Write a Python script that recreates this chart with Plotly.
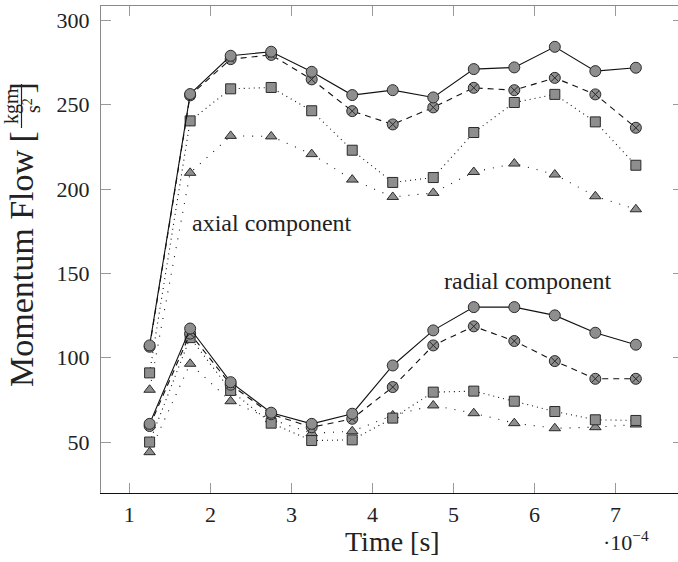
import plotly.graph_objects as go

# ---- data (time in units of 1e-4 s, momentum flow in kg m / s^2) ----
time = [1.25, 1.75, 2.25, 2.75, 3.25, 3.75, 4.25, 4.75, 5.25, 5.75, 6.25, 6.75, 7.25]

axial_circle = [107.3, 256.3, 279.0, 281.4, 269.5, 255.7, 258.6, 254.3, 271.1, 272.1, 284.3, 269.9, 271.9]
axial_cross = [106.5, 255.5, 277.0, 279.5, 265.0, 246.2, 238.3, 248.4, 260.0, 258.6, 265.9, 256.1, 236.3]
axial_square = [91.0, 240.4, 259.4, 260.2, 246.4, 223.0, 203.9, 206.8, 233.5, 251.3, 256.1, 239.8, 214.1]
axial_tri = [81.0, 209.6, 231.5, 231.2, 220.7, 205.6, 195.3, 197.7, 210.1, 215.1, 208.6, 195.7, 188.0]

radial_circle = [60.8, 117.3, 85.5, 67.4, 60.8, 66.8, 95.4, 116.2, 130.0, 130.0, 125.1, 114.8, 107.7]
radial_cross = [59.5, 114.3, 84.0, 66.5, 58.8, 63.8, 82.6, 107.3, 118.6, 109.9, 98.0, 87.5, 87.5]
radial_square = [50.0, 111.9, 80.6, 61.2, 50.9, 51.3, 64.2, 79.6, 80.2, 74.2, 68.1, 63.2, 62.8]
radial_tri = [44.0, 96.4, 74.2, 63.5, 55.2, 56.4, 65.8, 71.7, 67.1, 61.2, 58.2, 58.8, 60.4]

x_ticks = [1, 2, 3, 4, 5, 6, 7]
y_ticks = [50, 100, 150, 200, 250, 300]
x_range = [0.65, 7.77]
y_range = [19.8, 308.5]

FONT = "Liberation Serif"
FILL = "#8e8e8e"
EDGE = "#2a2a2a"
LINE = "#111111"

styles = [
    # (line dash, marker symbol, marker size)
    ("1px,8px", "triangle-up", 10),
    ("1px,4px", "square", 10),
    ("6px,5px", "circle-x", 11),
    ("solid", "circle", 11),
]

fig = go.Figure()
for group in [
    [axial_tri, axial_square, axial_cross, axial_circle],
    [radial_tri, radial_square, radial_cross, radial_circle],
]:
    for vals, (dash, sym, sz) in zip(group, styles):
        fig.add_trace(go.Scatter(
            x=time, y=vals, mode="lines+markers",
            line=dict(color=LINE, width=1.1, dash=dash),
            marker=dict(symbol=sym, size=sz, color=FILL,
                        line=dict(color=EDGE, width=1)),
            showlegend=False, hoverinfo="skip",
        ))

# invisible trace to register the mirrored axes
fig.add_trace(go.Scatter(x=[], y=[], xaxis="x2", yaxis="y2", showlegend=False))

L, R, T, B = 101, 0, 6, 69
W, H = 678 - L - R, 562 - T - B


def px(xp):
    return (xp - L) / W


def py(yp):
    return 1 - (yp - T) / H


fig.update_layout(
    width=678, height=562,
    margin=dict(l=L, r=R, t=T, b=B),
    paper_bgcolor="white", plot_bgcolor="white",
    font=dict(family=FONT, size=22, color="#222222"),
    xaxis=dict(range=x_range, tickvals=x_ticks, ticktext=[str(v) for v in x_ticks],
               ticks="inside", ticklen=10, tickcolor="#9a9a9a", tickwidth=1,
               showline=True, linecolor="#111111", linewidth=1.3,
               showgrid=False, zeroline=False, ticklabelstandoff=1,
               tickfont=dict(family=FONT, size=22)),
    yaxis=dict(range=y_range, tickvals=y_ticks, ticktext=[str(v) for v in y_ticks],
               ticks="inside", ticklen=10, tickcolor="#9a9a9a", tickwidth=1,
               showline=True, linecolor="#8a8a8a", linewidth=1.3,
               showgrid=False, zeroline=False, ticklabelstandoff=6,
               tickfont=dict(family=FONT, size=22)),
    xaxis2=dict(overlaying="x", side="top", matches="x", range=x_range,
                tickvals=x_ticks, ticks="inside", ticklen=10, tickcolor="#9a9a9a",
                showticklabels=False, showline=True, linecolor="#8a8a8a",
                linewidth=1.3, showgrid=False, zeroline=False),
    yaxis2=dict(overlaying="y", side="right", matches="y", range=y_range,
                tickvals=y_ticks, ticks="inside", ticklen=5, tickcolor="#9a9a9a",
                showticklabels=False, showline=False, showgrid=False, zeroline=False),
)

ann = []
# axis title x
ann.append(dict(text="Time [s]", xref="paper", yref="paper", x=px(392), y=py(541),
                xanchor="center", yanchor="middle", showarrow=False,
                font=dict(family=FONT, size=28)))
# exponent
ann.append(dict(text="·10<sup>−4</sup>", xref="paper", yref="paper", x=px(626), y=py(541),
                xanchor="center", yanchor="middle", showarrow=False,
                font=dict(family=FONT, size=22)))
# y title pieces
ann.append(dict(text="Momentum Flow", xref="paper", yref="paper", x=px(21), y=py(389),
                xanchor="center", yanchor="bottom", showarrow=False, textangle=-90,
                font=dict(family=FONT, size=34)))
ann.append(dict(text="[", xref="paper", yref="paper", x=px(21), y=py(145),
                xanchor="center", yanchor="bottom", showarrow=False, textangle=-90,
                font=dict(family=FONT, size=34)))
ann.append(dict(text="kgm", xref="paper", yref="paper", x=px(12), y=py(106),
                xanchor="center", yanchor="middle", showarrow=False, textangle=-90,
                font=dict(family=FONT, size=20)))
ann.append(dict(text="s<sup>2</sup>", xref="paper", yref="paper", x=px(32), y=py(106),
                xanchor="center", yanchor="middle", showarrow=False, textangle=-90,
                font=dict(family=FONT, size=20)))
ann.append(dict(text="]", xref="paper", yref="paper", x=px(21), y=py(81),
                xanchor="center", yanchor="top", showarrow=False, textangle=-90,
                font=dict(family=FONT, size=34)))
# in-plot labels
ann.append(dict(text="axial component", x=2.76, y=179.6, xref="x", yref="y",
                showarrow=False, font=dict(family=FONT, size=24)))
ann.append(dict(text="radial component", x=5.92, y=145.7, xref="x", yref="y",
                showarrow=False, font=dict(family=FONT, size=24)))
fig.update_layout(annotations=ann)

# fraction bar of the y-title unit
fig.add_shape(type="line", xref="paper", yref="paper",
              x0=px(21.5), x1=px(21.5), y0=py(84), y1=py(128),
              line=dict(color="#222222", width=1.2))

fig.write_html("out.html")
